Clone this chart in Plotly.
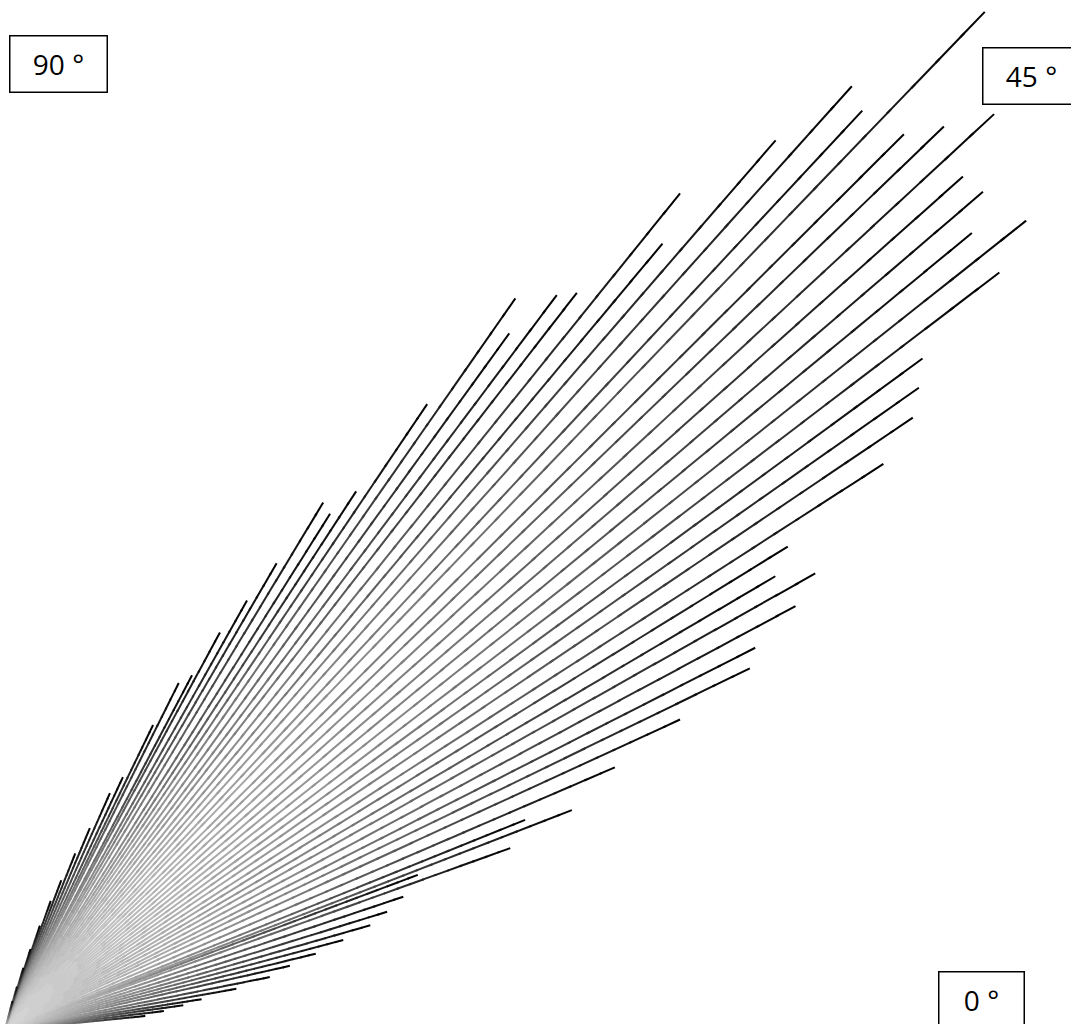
import numpy as np
import plotly.graph_objects as go

# Ray directions (degrees, counter-clockwise from the 0° axis) and ray lengths
angles_deg = [5.7, 6.8, 7.9, 8.9, 10.1, 11.3, 12.7, 13.8, 14.9, 16.0, 17.2, 18.5,
              19.8, 20.6, 21.2, 22.0, 23.3, 24.7, 25.9, 27.0, 28.2, 29.4, 30.5, 31.7,
              32.8, 34.0, 35.1, 36.2, 37.3, 38.4, 39.5, 40.6, 41.7, 42.8, 43.9, 44.9,
              46.1, 47.0, 48.1, 49.1, 50.1, 51.1, 52.2, 53.1, 54.1, 55.1, 56.0, 56.9,
              57.8, 58.9, 59.8, 60.6, 61.6, 62.2, 63.4, 64.1, 65.0, 66.1, 67.2, 68.3,
              69.4, 70.5, 71.5, 72.5, 73.5, 74.5, 75.5]
lengths = [141, 160, 180, 199, 235, 270, 292, 320, 350, 380, 400, 420,
           537, 441, 608, 561, 664, 743, 828, 842, 897, 930, 894, 920,
           1045, 1095, 1117, 1137, 1250, 1303, 1253, 1288, 1283, 1348, 1303, 1269,
           1413, 1257, 1268, 1177, 1025, 1075, 933, 919, 860, 892, 755, 643,
           610, 616, 540, 493, 452, 401, 388, 339, 279, 259, 219, 190,
           160, 137, 110, 85, 65, 45, 30]

# Corner labels
corner_labels = ["90 °", "45 °", "0 °"]

N_LEVELS = 40
fig = go.Figure()
th = np.radians(np.array(angles_deg))
L = np.array(lengths, dtype=float)
for k in range(N_LEVELS):
    f0 = k / N_LEVELS
    f1 = min(1.0, (k + 1) / N_LEVELS + 0.004)
    xs, ys = [], []
    for t, r in zip(th, L):
        xs += [r * f0 * np.cos(t), r * f1 * np.cos(t), None]
        ys += [r * f0 * np.sin(t), r * f1 * np.sin(t), None]
    g = int(round(215 * (1 - (k + 0.5) / N_LEVELS)))
    fig.add_trace(go.Scatter(x=xs, y=ys, mode="lines",
                             line=dict(color=f"rgb({g},{g},{g})", width=2),
                             hoverinfo="skip", showlegend=False))

ann_pos = [(58.5 / 1071, 1 - 64 / 1024), (1031 / 1071, 1 - 75.5 / 1024), (981.4 / 1071, 1 - 1000 / 1024)]
ann_w = [96, 96, 84]
for txt, (ax, ay), w in zip(corner_labels, ann_pos, ann_w):
    fig.add_annotation(x=ax, y=ay, xref="paper", yref="paper", text=txt, showarrow=False,
                       xanchor="center", yanchor="middle", width=w, height=55,
                       font=dict(family="Open Sans", size=28, color="black"),
                       bordercolor="black", borderwidth=1.5, borderpad=0, bgcolor="white")

fig.update_layout(width=1071, height=1024, margin=dict(l=0, r=0, t=0, b=0),
                  paper_bgcolor="white", plot_bgcolor="white", showlegend=False)
fig.update_xaxes(range=[-5, 1066], visible=False)
fig.update_yaxes(range=[6, 1030], visible=False)
fig.write_html("out.html", config={"displayModeBar": False},
               post_script="document.body.style.margin='0px';")
